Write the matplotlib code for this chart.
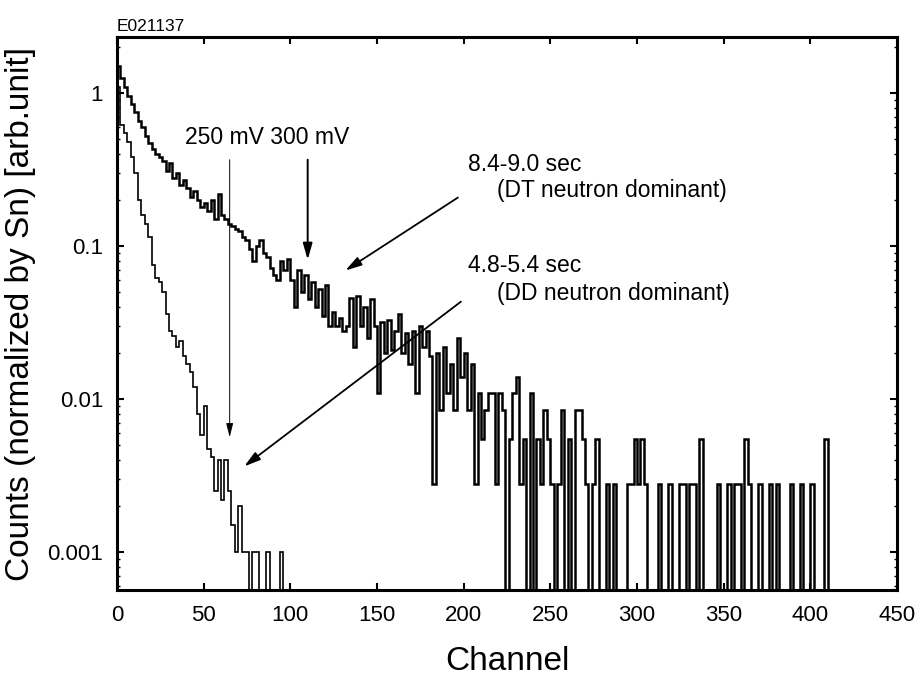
import matplotlib
matplotlib.use('Agg')
import matplotlib.pyplot as plt
from matplotlib.ticker import FixedLocator, LogLocator, NullFormatter

plt.rcParams['font.family'] = ['Liberation Sans', 'DejaVu Sans']

# channel bins are 2 channels wide
bin_width = 2

# 8.4-9.0 sec (DT neutron dominant), one value per bin from channel 0
dt_counts = [
    1.5, 1.25, 1.1, 0.95, 0.85, 0.75, 0.66, 0.6, 0.52, 0.47,
    0.43, 0.4, 0.38, 0.36, 0.31, 0.35, 0.28, 0.3, 0.25, 0.27,
    0.24, 0.21, 0.23, 0.2, 0.18, 0.19, 0.17, 0.2, 0.15, 0.22,
    0.16, 0.15, 0.14, 0.135, 0.13, 0.125, 0.115, 0.11, 0.095, 0.08,
    0.1, 0.11, 0.09, 0.085, 0.072, 0.065, 0.06, 0.08, 0.07, 0.082,
    0.06, 0.04, 0.07, 0.05, 0.065, 0.045, 0.058, 0.04, 0.052, 0.035,
    0.056, 0.03, 0.037, 0.03, 0.034, 0.028, 0.03, 0.046, 0.022, 0.047,
    0.03, 0.04, 0.025, 0.045, 0.03, 0.011, 0.032, 0.02, 0.033, 0.021,
    0.028, 0.036, 0.02, 0.027, 0.017, 0.028, 0.011, 0.03, 0.022, 0.028,
    0.019, 0.0028, 0.02, 0.0085, 0.022, 0.011, 0.017, 0.0085, 0.025, 0.014,
    0.02, 0.0085, 0.017, 0.0028, 0.011, 0.0055, 0.0085, 0.011, 0.011, 0.0028,
    0.011, 0.0085, 0, 0.0055, 0.011, 0.014, 0.0028, 0.0055, 0, 0.011,
    0, 0.0055, 0.0028, 0.0085, 0.0055, 0.0028, 0, 0.0028, 0.0085, 0,
    0.0055, 0, 0.0085, 0.0085, 0.0055, 0.0028, 0, 0.0028, 0.0055, 0,
    0, 0.0028, 0, 0.0028, 0, 0, 0, 0.0028, 0.0028, 0.0055,
    0.0028, 0.0055, 0.0028, 0, 0, 0, 0.0028, 0, 0, 0.0028,
    0, 0, 0.0028, 0.0028, 0, 0.0028, 0.0028, 0, 0.0055, 0,
    0, 0, 0, 0.0028, 0, 0, 0.0028, 0, 0.0028, 0.0028,
    0, 0.0055, 0.0028, 0, 0, 0.0028, 0, 0, 0.0028, 0,
    0.0028, 0, 0, 0, 0.0028, 0, 0, 0.0028, 0, 0,
    0.0028, 0, 0, 0, 0.0055, 0,
]

# 4.8-5.4 sec (DD neutron dominant)
dd_counts = [
    1.1, 0.62, 0.55, 0.48, 0.38, 0.3, 0.2, 0.16, 0.14, 0.115,
    0.075, 0.062, 0.058, 0.05, 0.036, 0.028, 0.026, 0.022, 0.024, 0.019,
    0.017, 0.015, 0.012, 0.008, 0.0058, 0.009, 0.0047, 0.0042, 0.0025, 0.004,
    0.0022, 0.004, 0.0025, 0.0015, 0.001, 0.002, 0.001, 0.001, 0, 0.001,
    0.001, 0, 0, 0.001, 0, 0, 0, 0.001, 0,
]

y_ticks = [0.001, 0.01, 0.1, 1]
y_tick_labels = ['0.001', '0.01', '0.1', '1']
x_ticks = [0, 50, 100, 150, 200, 250, 300, 350, 400, 450]

dt_edges = [i * bin_width for i in range(len(dt_counts) + 1)]
dd_edges = [i * bin_width for i in range(len(dd_counts) + 1)]

fig = plt.figure(figsize=(9.22, 6.86), dpi=100)
ax = fig.add_axes([0.1269, 0.1399, 0.846, 0.8061])

ax.stairs(dt_counts, dt_edges, baseline=None, color='black', lw=1.8)
ax.stairs(dd_counts, dd_edges, baseline=None, color='black', lw=1.2)

ax.set_yscale('log')
ax.set_xlim(0, 450)
ax.set_ylim(5.65e-4, 2.32)

ax.xaxis.set_major_locator(FixedLocator(x_ticks))
ax.yaxis.set_major_locator(FixedLocator(y_ticks))
ax.set_yticklabels(y_tick_labels)
ax.yaxis.set_minor_locator(LogLocator(base=10, subs=range(2, 10)))
ax.yaxis.set_minor_formatter(NullFormatter())

ax.tick_params(which='major', direction='in', length=5, width=1.5,
               top=True, right=True, labelsize=16)
ax.tick_params(axis='x', which='major', pad=11)
ax.tick_params(axis='y', which='major', pad=10)
ax.tick_params(which='minor', direction='in', length=2.5, width=1, right=True)
for s in ax.spines.values():
    s.set_linewidth(2.2)

ax.set_xlabel('Channel', fontsize=24, labelpad=14)
ax.set_ylabel('Counts (normalized by Sn) [arb.unit]', fontsize=24, labelpad=8)

fig.text(0.1269, 0.962, 'E021137', fontsize=12.5, ha='left', va='center')

# threshold arrows
ax.text(39, 0.51, '250 mV 300 mV', fontsize=16.5, ha='left', va='center')
ax.annotate('', xy=(65, 0.0054), xytext=(65, 0.382),
            arrowprops=dict(arrowstyle='-|>,head_length=0.6,head_width=0.15',
                            color='black', lw=0.7, mutation_scale=14))
ax.annotate('', xy=(110, 0.078), xytext=(110, 0.382),
            arrowprops=dict(arrowstyle='-|>,head_length=0.7,head_width=0.2',
                            color='black', lw=1.4, mutation_scale=14))

# time window labels
ax.text(202.5, 0.343, '8.4-9.0 sec', fontsize=16.5, ha='left', va='center')
ax.text(219, 0.232, '(DT neutron dominant)', fontsize=16.5, ha='left', va='center')
ax.annotate('', xy=(130.4, 0.0676), xytext=(198, 0.212),
            arrowprops=dict(arrowstyle='-|>,head_length=0.7,head_width=0.2',
                            color='black', lw=1.3, mutation_scale=14))

ax.text(202.5, 0.0751, '4.8-5.4 sec', fontsize=16.5, ha='left', va='center')
ax.text(219, 0.0493, '(DD neutron dominant)', fontsize=16.5, ha='left', va='center')
ax.annotate('', xy=(72.1, 0.00354), xytext=(199.7, 0.0444),
            arrowprops=dict(arrowstyle='-|>,head_length=0.7,head_width=0.2',
                            color='black', lw=1.3, mutation_scale=14))

fig.savefig('out.png', dpi=100)
